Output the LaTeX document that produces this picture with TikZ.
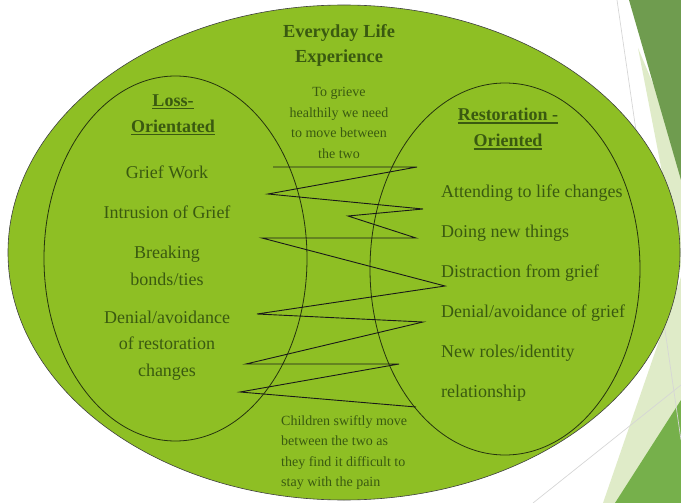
\documentclass[tikz,border=0pt]{standalone}
\usepackage{fontspec}
\setmainfont{Liberation Serif}
\definecolor{bubblegreen}{HTML}{8EBF24}
\definecolor{txtgreen}{HTML}{3A5A10}
\definecolor{facetdark}{HTML}{6F9C4F}
\definecolor{facetlight}{HTML}{DFEBC8}
\definecolor{facetmid}{HTML}{76B04B}
\definecolor{facetline}{HTML}{D6D6D6}
\definecolor{rimdark}{HTML}{26340E}
% underline drawn as a rule so its weight follows the heading size
\newcommand\headul[1]{\setbox0\hbox{#1}\leavevmode\rlap{\rule[-2.8pt]{\wd0}{1.3pt}}\box0}
\begin{document}
\begin{tikzpicture}[x=1pt,y=-1pt,
  every node/.style={inner sep=0pt,text=txtgreen},
  titletext/.style={font=\fontsize{18.4}{25}\selectfont\bfseries,align=center},
  notetext/.style={font=\fontsize{14}{20.5}\selectfont,align=center},
  headtext/.style={font=\fontsize{18}{26}\selectfont\bfseries,align=center},
  itemtext/.style={font=\fontsize{18}{26.5}\selectfont,align=center},
  rightitem/.style={font=\fontsize{18}{26.5}\selectfont,anchor=west},
  outerbubble/.style={fill=bubblegreen,draw=black!75,line width=0.6pt},
  innerbubble/.style={draw=rimdark,line width=0.8pt},
  zigzag/.style={draw=black!90,line width=0.9pt,line join=miter},
  facetrule/.style={draw=facetline,line width=0.7pt}]
\useasboundingbox (0,0) rectangle (681,503);

% slide facets on the right edge
\fill[facetlight] (638,48) -- (681,270) -- (681,150) -- cycle;
\fill[facetlight] (681,277) -- (603,503) -- (681,503) -- cycle;
\fill[facetmid] (615,503) -- (681,400) -- (681,503) -- cycle;
\fill[facetdark] (629,0) -- (681,0) -- (681,180) -- cycle;
\path[facetrule] (617,0) -- (681,440);
\path[facetrule] (533,503) -- (681,385);

% the three bubbles
\path[outerbubble] (344,252.5) ellipse [x radius=336pt, y radius=247.5pt];
\path[innerbubble] (175.5,258.5) ellipse [x radius=131.5pt, y radius=182.5pt];
\path[innerbubble] (505,269) ellipse [x radius=135pt, y radius=186pt];

% oscillation between the two orientations
\coordinate (z1) at (273,167);
\coordinate (z2) at (417,167);
\coordinate (z3) at (268,194);
\coordinate (z4) at (423,209);
\coordinate (z5) at (348,216);
\coordinate (z6) at (416,238);
\coordinate (z7) at (262,238);
\coordinate (z8) at (445,286);
\coordinate (z9) at (257,314);
\coordinate (z10) at (423,322);
\coordinate (z11) at (246,364);
\coordinate (z12) at (399,364);
\coordinate (z13) at (240,392);
\coordinate (z14) at (416,407);
\path[zigzag] (z1) -- (z2) -- (z3) -- (z4) -- (z5) -- (z6) -- (z7) -- (z8)
  -- (z9) -- (z10) -- (z11) -- (z12) -- (z13) -- (z14);

% headings and notes
\node[titletext] (title) at (339,45.5) {Everyday Life\\Experience};
\node[notetext] (healthy) at (339,123) {To grieve\\healthily we need\\to move between\\the two};
\node[notetext,align=left,anchor=west] (children) at (281,452.5)
  {Children swiftly move\\between the two as\\they find it difficult to\\stay with the pain};

% loss-orientated side
\node[headtext] (losshead) at (173,115) {\headul{Loss-}\\\headul{Orientated}};
\node[itemtext] (l1) at (167,172) {Grief Work};
\node[itemtext] (l2) at (167,212) {Intrusion of Grief};
\node[itemtext] (l3) at (167,266) {Breaking\\bonds/ties};
\node[itemtext] (l4) at (167,345.5) {Denial/avoidance\\of restoration\\changes};

% restoration-oriented side
\node[headtext] (resthead) at (508,129) {\headul{Restoration -}\\\headul{Oriented}};
\node[rightitem] (r1) at (441,193) {Attending to life changes};
\node[rightitem] (r2) at (441,233) {Doing new things};
\node[rightitem] (r3) at (441,273) {Distraction from grief};
\node[rightitem] (r4) at (441,313) {Denial/avoidance of grief};
\node[rightitem] (r5) at (441,353) {New roles/identity};
\node[rightitem] (r6) at (441,393) {relationship};
\end{tikzpicture}
\end{document}
